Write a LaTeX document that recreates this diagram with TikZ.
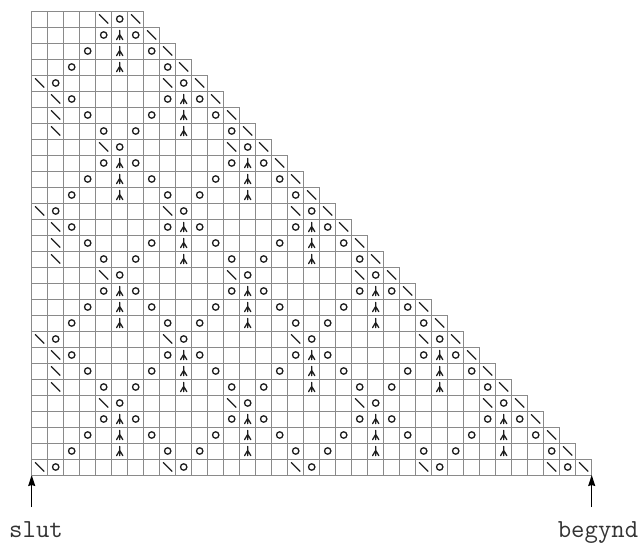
\documentclass[tikz,border=0pt]{standalone}
\usepackage{fontspec}
\usetikzlibrary{arrows.meta}
\definecolor{gridc}{HTML}{8A8A8A}
\definecolor{symc}{HTML}{1E1E1E}
\definecolor{txtc}{HTML}{333333}
\newcommand\xo{31.7}
\newcommand\yo{11}
\newcommand\cellS{16}
\newcommand\chartsym[3]{\pic at ({\xo+(#2-0.5)*\cellS},{\yo+(#3-0.5)*\cellS}) {#1};}
\begin{document}
\begin{tikzpicture}[x=1pt,y=-1pt,
  gridline/.style={draw=gridc,line width=0.9pt},
  symline/.style={draw=symc,line width=1.3pt,line cap=round},
  bs/.pic={\draw[symline] (-4.3,-4.3) -- (4.3,4.3);},
  yo/.pic={\draw[symline] (0,0) circle[radius=3.2pt];},
  cdd/.pic={\draw[symline] (0,-4.6) -- (0,4.6) (-3.1,4.6) -- (0,-0.5) -- (3.1,4.6);},
  arr/.style={draw=black,line width=1.3pt,-{Stealth[length=11pt,width=7pt,inset=1pt]}},
  lbl/.style={font=\ttfamily\fontsize{26}{30}\selectfont,text=txtc,inner sep=0pt,anchor=base}
]
\useasboundingbox (0,0) rectangle (643,544);
% grid: horizontal lines
\foreach \i in {0,...,29}{
  \pgfmathtruncatemacro\wd{min(7+\i,35)}
  \draw[gridline] ({\xo},{\yo+\i*\cellS}) -- ({\xo+\wd*\cellS},{\yo+\i*\cellS});
}
% grid: vertical lines
\foreach \j in {0,...,35}{
  \pgfmathtruncatemacro\tmin{max(1,\j-6)}
  \draw[gridline] ({\xo+\j*\cellS},{\yo+(\tmin-1)*\cellS}) -- ({\xo+\j*\cellS},{\yo+29*\cellS});
}
% symbols
\foreach \rowT in {1,...,29}{
  \pgfmathtruncatemacro\qq{\rowT-1}
  \pgfmathtruncatemacro\mq{floor(\qq/8)}
  \pgfmathtruncatemacro\pp{mod(\qq,8)}
  \pgfmathtruncatemacro\rowL{7+\qq}
  \chartsym{bs}{\rowL}{\rowT}
  \ifnum\pp<4
    \foreach \k in {0,...,\mq}{
      \pgfmathtruncatemacro\colA{6+8*\k}
      \ifnum\pp=0
        \pgfmathtruncatemacro\colB{\colA-1}
        \chartsym{bs}{\colB}{\rowT}
        \chartsym{yo}{\colA}{\rowT}
      \else
        \pgfmathtruncatemacro\colB{\colA-\pp}
        \pgfmathtruncatemacro\colC{\colA+\pp}
        \chartsym{yo}{\colB}{\rowT}
        \chartsym{cdd}{\colA}{\rowT}
        \chartsym{yo}{\colC}{\rowT}
      \fi
    }
  \else
    \pgfmathtruncatemacro\dd{\pp-4}
    \pgfmathtruncatemacro\mm{\mq+1}
    \foreach \k in {0,...,\mm}{
      \pgfmathtruncatemacro\colA{2+8*\k}
      \pgfmathtruncatemacro\colB{\colA-\dd}
      \pgfmathtruncatemacro\colC{\colA+\dd}
      \ifnum\dd=0
        \pgfmathtruncatemacro\colB{\colA-1}
        \chartsym{bs}{\colB}{\rowT}
        \chartsym{yo}{\colA}{\rowT}
      \else
        \ifnum\k=0
          \chartsym{bs}{\colA}{\rowT}
          \chartsym{yo}{\colC}{\rowT}
        \else
          \chartsym{yo}{\colB}{\rowT}
          \chartsym{cdd}{\colA}{\rowT}
          \chartsym{yo}{\colC}{\rowT}
        \fi
      \fi
    }
  \fi
}
% arrows and labels
\coordinate (bl) at (\xo,475);
\coordinate (br) at (591.7,475);
\coordinate (blt) at (\xo,507);
\coordinate (brt) at (591.7,507);
\draw[arr] (blt) -- (bl);
\draw[arr] (brt) -- (br);
\node[lbl] (slut) at (36,537.5) {slut};
\node[lbl] (begynd) at (598,537.5) {begynd};
\end{tikzpicture}
\end{document}
